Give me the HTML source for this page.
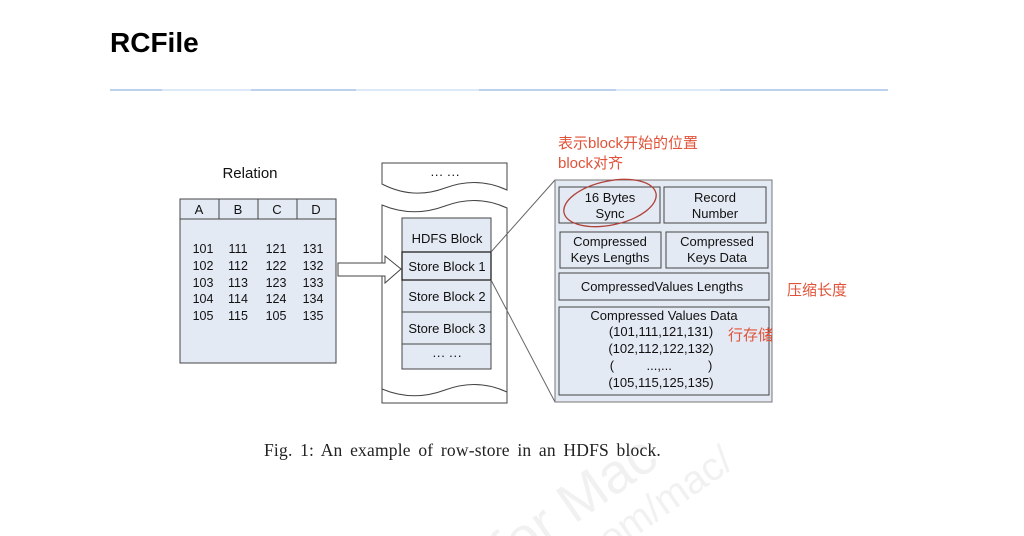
<!DOCTYPE html>
<html><head><meta charset="utf-8"><style>
html,body{margin:0;padding:0;background:#fff;width:1024px;height:536px;overflow:hidden;}
svg{display:block;}
</style></head><body>
<svg width="1024" height="536" viewBox="0 0 1024 536" xmlns="http://www.w3.org/2000/svg" font-family="Liberation Sans, sans-serif">
<text x="110" y="52" font-size="28" font-weight="bold" fill="#000">RCFile</text>
<rect x="110" y="89" width="778" height="2" fill="#dde9f7"/>
<rect x="110" y="89" width="52" height="2" fill="#bcd1ee"/>
<rect x="251" y="89" width="105" height="2" fill="#bcd1ee"/>
<rect x="479" y="89" width="137" height="2" fill="#bcd1ee"/>
<rect x="720" y="89" width="168" height="2" fill="#bcd1ee"/>

<g stroke="#444" stroke-width="1" fill="#e4eaf4">
<rect x="180" y="199" width="156" height="164"/>
<line x1="180" y1="219" x2="336" y2="219"/>
<line x1="219" y1="199" x2="219" y2="219"/>
<line x1="258" y1="199" x2="258" y2="219"/>
<line x1="297" y1="199" x2="297" y2="219"/>
<path d="M382 163 L507 163 L507 190 Q477 176 445 188 Q413 200 382 184 Z" fill="#fff"/>
<path d="M382 205 Q413 218 445 206 Q477 194 507 208 L507 403 L382 403 Z" fill="#fff"/>
<path d="M382 389 Q413 402 445 390 Q477 378 507 392" fill="none"/>
<path d="M338 263 L385 263 L385 256 L401 269 L385 283 L385 276 L338 276 Z" fill="#fff"/>
<rect x="402" y="218" width="89" height="151"/>
<line x1="402" y1="252" x2="491" y2="252"/>
<line x1="402" y1="312" x2="491" y2="312"/>
<line x1="402" y1="344" x2="491" y2="344"/>
<rect x="402" y="252" width="89" height="28" stroke="#222" stroke-width="1.3"/>
<line x1="491" y1="252" x2="555" y2="180" fill="none" stroke="#666"/>
<line x1="491" y1="280" x2="555" y2="402" fill="none" stroke="#666"/>
<rect x="555" y="180" width="217" height="222" stroke="#777"/>
<rect x="559" y="187" width="101" height="36"/>
<rect x="664" y="187" width="102" height="36"/>
<rect x="560" y="232" width="101" height="36"/>
<rect x="666" y="232" width="102" height="36"/>
<rect x="559" y="273" width="210" height="27"/>
<rect x="559" y="307" width="210" height="88"/>
</g>

<g font-size="13" fill="#111" text-anchor="middle">
<text x="250" y="178" font-size="15">Relation</text>
<text x="199" y="214">A</text><text x="238" y="214">B</text><text x="277" y="214">C</text><text x="316" y="214">D</text>
<g font-size="12.5">
<text x="203" y="253">101</text><text x="238" y="253">111</text><text x="276" y="253">121</text><text x="313" y="253">131</text>
<text x="203" y="270">102</text><text x="238" y="270">112</text><text x="276" y="270">122</text><text x="313" y="270">132</text>
<text x="203" y="287">103</text><text x="238" y="287">113</text><text x="276" y="287">123</text><text x="313" y="287">133</text>
<text x="203" y="303">104</text><text x="238" y="303">114</text><text x="276" y="303">124</text><text x="313" y="303">134</text>
<text x="203" y="320">105</text><text x="238" y="320">115</text><text x="276" y="320">105</text><text x="313" y="320">135</text>
</g>
<text x="445" y="179">··· ···</text>
<text x="447" y="243">HDFS Block</text>
<text x="447" y="271">Store Block 1</text>
<text x="447" y="301">Store Block 2</text>
<text x="447" y="333">Store Block 3</text>
<text x="447" y="360">··· ···</text>
<text x="610" y="202">16 Bytes</text><text x="610" y="218">Sync</text>
<text x="715" y="202">Record</text><text x="715" y="218">Number</text>
<text x="610" y="246">Compressed</text><text x="610" y="262">Keys Lengths</text>
<text x="717" y="246">Compressed</text><text x="717" y="262">Keys  Data</text>
<text x="662" y="291">CompressedValues Lengths</text>
<text x="664" y="320">Compressed Values Data</text>
<text x="661" y="336">(101,111,121,131)</text>
<text x="661" y="353">(102,112,122,132)</text>
<text x="661" y="370" xml:space="preserve">(         ...,...          )</text>
<text x="661" y="387">(105,115,125,135)</text>
</g>
<ellipse cx="610" cy="203" rx="47" ry="22" fill="none" stroke="#b0423a" stroke-width="1.3" transform="rotate(-12 610 203)"/>
<g font-family="Liberation Sans, Noto Sans CJK SC, sans-serif" font-size="15" fill="#e0533a">
<text x="558" y="148">表示block开始的位置</text>
<text x="558" y="168">block对齐</text>
<text x="787" y="295">压缩长度</text>
<text x="728" y="340">行存储</text>
</g>
<text x="264" y="456" font-family="Liberation Serif, serif" font-size="17.5" fill="#222" word-spacing="3" letter-spacing="0.2">Fig. 1: An example of row-store in an HDFS block.</text>
<g fill="#000" opacity="0.05" font-size="56" font-family="Liberation Sans, sans-serif" transform="rotate(-35 600 470)">
<text x="420" y="500">e for Mac</text>
<text x="560" y="545" font-size="40">om/mac/</text>
</g>
</svg>
</body></html>
